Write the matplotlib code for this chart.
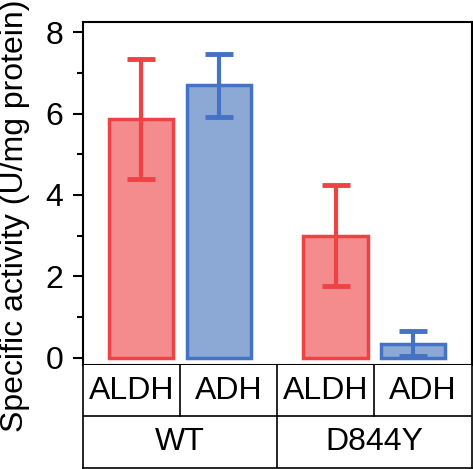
import numpy as np
import matplotlib.pyplot as plt
from matplotlib.ticker import MultipleLocator

# Data
groups = ["WT", "D844Y"]
enzymes = ["ALDH", "ADH", "ALDH", "ADH"]
means = [5.86, 6.69, 3.00, 0.34]
errors = [1.47, 0.77, 1.25, 0.31]

edge_colors = ["#EE4245", "#4472C4", "#EE4245", "#4472C4"]
fill_colors = ["#F48B8C", "#8CA9D6", "#F48B8C", "#8CA9D6"]

plt.rcParams["font.family"] = ["Liberation Sans", "DejaVu Sans"]

fig = plt.figure(figsize=(4.73, 4.69), dpi=100)
ax = fig.add_axes([0.1748, 0.2217, 0.8225, 0.7314])
tab = fig.add_axes([0.1748, 0.0028, 0.8225, 0.2189])

# bars sit toward their group centre
offsets = [0.1, -0.1, 0.1, -0.1]
xpos = np.arange(len(means)) + 0.5 + np.array(offsets)
for x, m, e, ec, fc in zip(xpos, means, errors, edge_colors, fill_colors):
    ax.bar(x, m, width=0.66, color=fc, edgecolor=ec, linewidth=2.5, zorder=2)
    ax.errorbar(x, m, yerr=e, color=ec, elinewidth=3, capsize=10, capthick=3.5, zorder=3)

ax.set_xlim(0, 4)
ax.set_ylim(-0.18, 8.25)
ax.set_xticks([])
ax.yaxis.set_major_locator(MultipleLocator(2))
ax.yaxis.set_minor_locator(MultipleLocator(1))
ax.tick_params(axis="y", which="major", length=7, width=1.5, labelsize=23, pad=7)
ax.tick_params(axis="y", which="minor", length=4, width=1.5)
for s in ax.spines.values():
    s.set_linewidth(1.5)
fig.text(0.0, 0.54, "Specific activity (U/mg protein)", rotation=90,
         ha="left", va="center", fontsize=23)

# category table beneath the axis
tab.set_xlim(0, 4)
tab.set_ylim(0, 2)
tab.set_xticks([])
tab.set_yticks([])
for s in tab.spines.values():
    s.set_linewidth(1.2)
tab.spines["top"].set_visible(False)
tab.axhline(1, color="black", lw=1.2)
for x in [1, 3]:
    tab.plot([x, x], [1, 2], color="black", lw=1.2)
tab.plot([2, 2], [0, 2], color="black", lw=1.2)
for i, name in enumerate(enzymes):
    tab.text(i + 0.5, 1.5, name, ha="center", va="center", fontsize=23)
for i, name in enumerate(groups):
    tab.text(2 * i + 1, 0.5, name, ha="center", va="center", fontsize=23)

fig.savefig("out.png", dpi=100)
